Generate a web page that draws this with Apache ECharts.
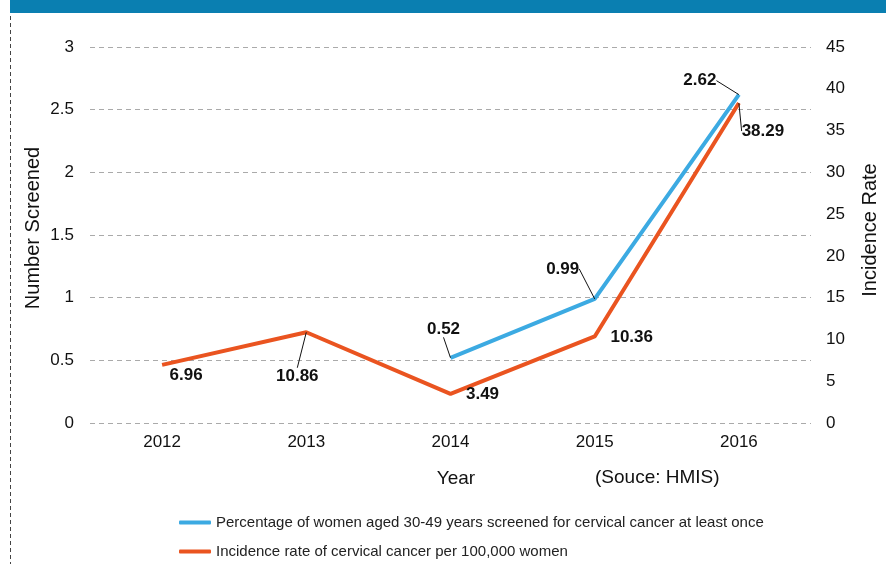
<!DOCTYPE html>
<html>
<head>
<meta charset="utf-8">
<script src="https://cdn.jsdelivr.net/npm/echarts@6/dist/echarts.min.js"></script>
<style>
	html, body { margin: 0; padding: 0; background: #fff; }
	#chart { width: 886px; height: 564px; }
</style>
</head>
<body>
<div id="chart"></div>
<script>
// data
var years = ['2012', '2013', '2014', '2015', '2016'];
var screened = [null, null, 0.52, 0.99, 2.62];
var incidence = [6.96, 10.86, 3.49, 10.36, 38.29];
var screenedName = 'Percentage of women aged 30-49 years screened for cervical cancer at least once';
var incidenceName = 'Incidence rate of cervical cancer per 100,000 women';

// label offsets (dx, dy) from each point, and whether a leader line is drawn
var screenedOffsets = [null, null, [-7, -29], [-32, -30], [-39, -14]];
var incidenceOffsets = [[24, 10], [-9, 44], [32, 0], [37, 1], [24, 28]];
var screenedLeader = [false, false, true, true, true];
var incidenceLeader = [false, true, false, false, true];

var font = 'Liberation Sans, Arial, sans-serif';

function withLeader(values, leader) {
	return values.map(function (v, i) {
		return { value : v, labelLine : { show : leader[i] } };
	});
}

function makeLabel() {
	return {
		show : true,
		position : 'inside',
		color : '#111',
		fontSize : 17,
		fontWeight : 'bold',
		fontFamily : font
	};
}

var myChart = echarts.init(document.getElementById('chart'));
var option = {
	animation : false,
	textStyle : { fontFamily : font },
	grid : { left : 90, right : 75, top : 47, bottom : 141, outerBoundsMode : 'none' },
	legend : {
		orient : 'vertical',
		left : 179,
		top : 515,
		padding : 0,
		itemGap : 14,
		itemWidth : 32,
		itemHeight : 4,
		icon : 'roundRect',
		textStyle : { color : '#222', fontSize : 15, fontFamily : font },
		data : [ screenedName, incidenceName ]
	},
	xAxis : {
		type : 'category',
		data : years,
		name : 'Year',
		nameLocation : 'middle',
		nameGap : 46,
		nameTextStyle : { color : '#111', fontSize : 19, padding : [0, 0, 0, 11] },
		axisLine : { show : false },
		axisTick : { show : false },
		axisLabel : { color : '#111', fontSize : 17, margin : 11 }
	},
	yAxis : [ {
		type : 'value',
		min : 0,
		max : 3,
		interval : 0.5,
		axisLine : { show : false },
		axisTick : { show : false },
		axisLabel : { color : '#111', fontSize : 17, margin : 16 },
		splitLine : { lineStyle : { color : '#aaa', type : [5, 4] } }
	}, {
		type : 'value',
		min : 0,
		max : 45,
		interval : 5,
		axisLine : { show : false },
		axisTick : { show : false },
		axisLabel : { color : '#111', fontSize : 17, margin : 15 },
		splitLine : { show : false }
	} ],
	series : [ {
		name : screenedName,
		type : 'line',
		yAxisIndex : 0,
		data : withLeader(screened, screenedLeader),
		color : '#3caae2',
		lineStyle : { width : 4 },
		symbol : 'circle',
		symbolSize : 0.1,
		label : makeLabel(),
		labelLine : { lineStyle : { color : '#111', width : 1 } },
		labelLayout : function (p) {
			var o = screenedOffsets[p.dataIndex] || [0, 0];
			return { dx : o[0], dy : o[1] };
		}
	}, {
		name : incidenceName,
		type : 'line',
		yAxisIndex : 1,
		data : withLeader(incidence, incidenceLeader),
		color : '#ea5420',
		lineStyle : { width : 4 },
		symbol : 'circle',
		symbolSize : 0.1,
		label : makeLabel(),
		labelLine : { lineStyle : { color : '#111', width : 1 } },
		labelLayout : function (p) {
			var o = incidenceOffsets[p.dataIndex] || [0, 0];
			return { dx : o[0], dy : o[1] };
		}
	} ],
	graphic : [ {
		type : 'rect',
		shape : { x : 10, y : 0, width : 876, height : 13 },
		style : { fill : '#0a7fb1' }
	}, {
		type : 'line',
		shape : { x1 : 10.5, y1 : 16, x2 : 10.5, y2 : 564 },
		style : { stroke : '#444', lineWidth : 1, lineDash : [4, 3] }
	}, {
		type : 'text',
		x : 33,
		y : 228,
		rotation : Math.PI / 2,
		style : { text : 'Number Screened', fill : '#111', fontSize : 20, fontFamily : font, align : 'center', verticalAlign : 'middle' }
	}, {
		type : 'text',
		x : 870,
		y : 230,
		rotation : Math.PI / 2,
		style : { text : 'Incidence Rate', fill : '#111', fontSize : 20, fontFamily : font, align : 'center', verticalAlign : 'middle' }
	}, {
		type : 'text',
		x : 595,
		y : 478,
		style : { text : '(Souce: HMIS)', fill : '#111', fontSize : 19, fontFamily : font, verticalAlign : 'middle' }
	} ]
};
myChart.setOption(option);
</script>
</body>
</html>
